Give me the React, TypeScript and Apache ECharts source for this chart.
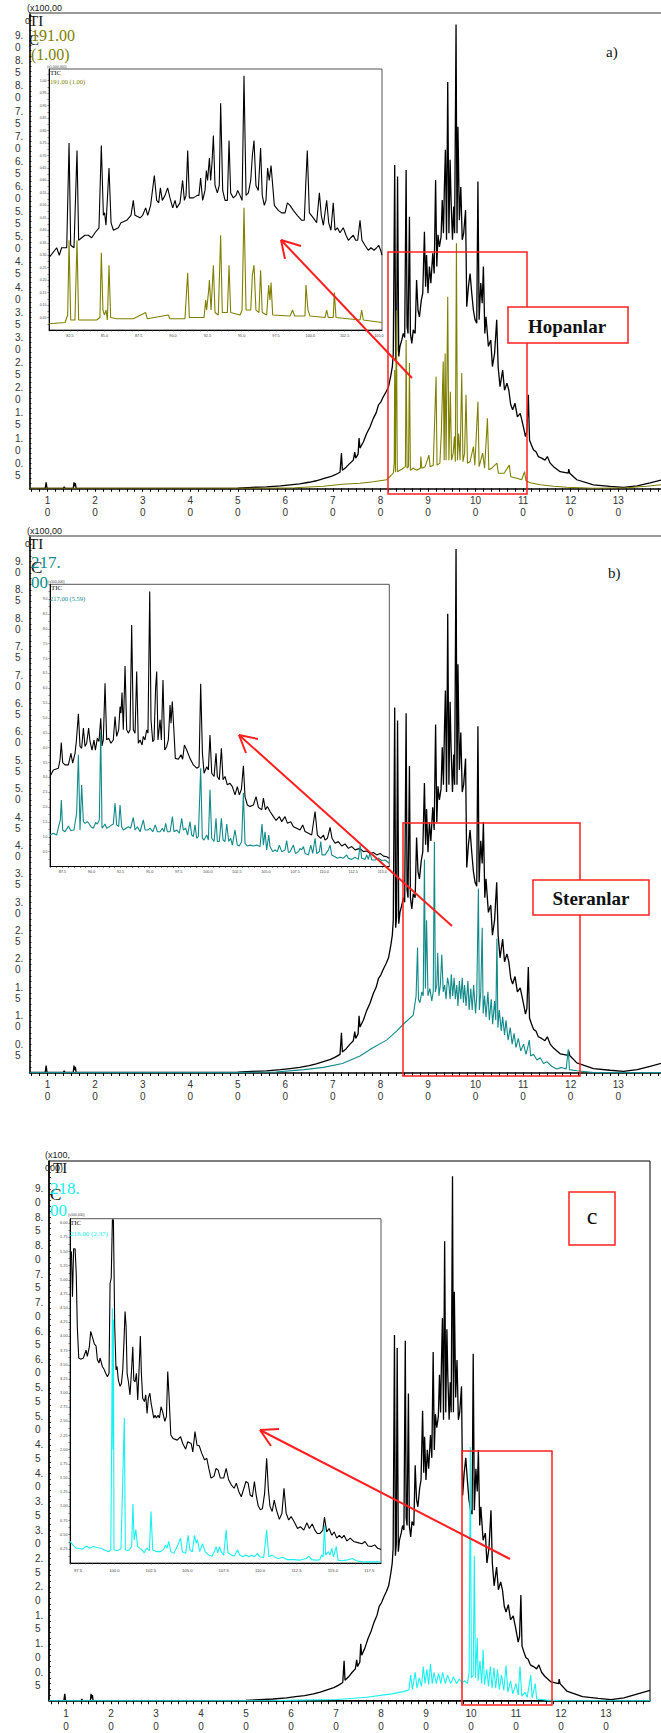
import React, { useEffect, useRef } from "react";
import * as echarts from "echarts";

// ---------------- axis label values ----------------
const mainXLabels = [10, 20, 30, 40, 50, 60, 70, 80, 90, 100, 110, 120, 130];
const mainYLabels = [0.5, 1.0, 1.5, 2.0, 2.5, 3.0, 3.5, 4.0, 4.5, 5.0, 5.5, 6.0, 6.5, 7.0, 7.5, 8.0, 8.5, 9.0];
const insetAXLabels = [82.5, 85.0, 87.5, 90.0, 92.5, 95.0, 97.5, 100.0, 102.5, 105.0];
const insetAYLabels = [0.05, 0.1, 0.15, 0.2, 0.25, 0.3, 0.35, 0.4, 0.45, 0.5, 0.55, 0.6, 0.65, 0.7, 0.75, 0.8, 0.85, 0.9, 0.95, 1.0];
const insetBXLabels = [87.5, 90.0, 92.5, 95.0, 97.5, 100.0, 102.5, 105.0, 107.5, 110.0, 112.5, 115.0];
const insetBYLabels = [0.5, 1.0, 1.5, 2.0, 2.5, 3.0, 3.5, 4.0, 4.5, 5.0, 5.5, 6.0, 6.5, 7.0, 7.5, 8.0, 8.5, 9.0];
const insetCXLabels = [97.5, 100.0, 102.5, 105.0, 107.5, 110.0, 112.5, 115.0, 117.5];
const insetCYLabels = [0.25, 0.5, 0.75, 1.0, 1.25, 1.5, 1.75, 2.0, 2.25, 2.5, 2.75, 3.0, 3.25, 3.5, 3.75, 4.0, 4.25, 4.5, 4.75, 5.0, 5.25, 5.5, 5.75, 6.0];

// ---------------- main chromatogram (TIC, x100,000) ----------------
const ticMain: [number, number][] = [
  [6.2, 0], [9.5, 0], [9.7, 0.12], [9.85, 0.02], [10.0, 0], [13.3, 0], [13.5, 0.03], [13.7, 0], [15.4, 0], [15.55, 0.12],
  [15.7, 0.04], [15.85, 0.1], [16.0, 0], [30, 0], [45, 0], [50, 0.005], [53, 0.02], [56, 0.03], [59, 0.05], [61, 0.07],
  [63, 0.09], [65, 0.12], [66.5, 0.15], [68, 0.19], [69.5, 0.23], [70.5, 0.27], [71.5, 0.32], [71.8, 0.7], [72.0, 0.36],
  [72.8, 0.42], [73.6, 0.5], [74.3, 0.56], [74.6, 0.72], [74.8, 0.6], [75.3, 0.68], [75.5, 1.0], [75.7, 0.8], [76.4, 0.92],
  [77.1, 1.09], [77.8, 1.22], [78.5, 1.39], [79.1, 1.5], [79.6, 1.66], [80.1, 1.72], [80.6, 1.82], [81.2, 1.92], [81.7, 2.02],
  [82.2, 2.25], [82.5, 2.42], [82.7, 2.68], [83.0, 6.43], [83.2, 2.55], [83.4, 2.75], [83.6, 6.2], [83.85, 2.62], [84.1, 2.82],
  [84.5, 2.95], [84.8, 3.08], [85.1, 3.0], [85.4, 6.33], [85.6, 3.21], [85.8, 3.08], [86.1, 5.4], [86.3, 3.08], [86.6, 2.88],
  [86.9, 3.15], [87.3, 3.08], [87.6, 4.14], [87.9, 3.54], [88.2, 3.41], [88.6, 3.74], [88.9, 3.88], [89.25, 5.1], [89.5, 4.01],
  [89.7, 4.64], [90.0, 3.88], [90.3, 4.41], [90.6, 4.08], [91.0, 4.67], [91.3, 4.27], [91.6, 6.13], [91.85, 4.41], [92.1, 5.04],
  [92.4, 4.8], [92.75, 5.0], [93.0, 5.73], [93.25, 5.07], [93.45, 5.99], [93.66, 6.73], [93.9, 4.94], [94.15, 8.08], [94.4, 5.07],
  [94.65, 6.53], [94.85, 5.73], [95.15, 4.94], [95.4, 5.6], [95.6, 5.07], [95.9, 9.22], [96.1, 5.07], [96.3, 7.19], [96.6, 5.33],
  [96.9, 5.99], [97.2, 4.94], [97.5, 5.07], [97.9, 5.53], [98.15, 3.61], [98.5, 4.01], [98.85, 4.27], [99.2, 3.88], [99.55, 3.54],
  [99.9, 3.35], [100.25, 3.28], [100.5, 6.1], [100.75, 3.35], [101.1, 4.08], [101.4, 3.68], [101.65, 4.41], [101.95, 3.08],
  [102.2, 3.41], [102.7, 2.82], [103.2, 2.95], [103.55, 2.42], [104.0, 2.68], [104.45, 3.35], [104.75, 2.42], [105.15, 2.02],
  [105.7, 2.35], [106.1, 1.95], [106.6, 2.09], [107.0, 1.95], [107.4, 1.66], [107.8, 1.56], [108.3, 1.69], [108.8, 1.42],
  [109.4, 1.49], [109.9, 1.29], [110.2, 1.16], [110.5, 1.03], [110.8, 1.13], [111.1, 1.86], [111.35, 0.96], [111.75, 0.86],
  [112.2, 0.76], [112.7, 0.73], [113.2, 0.63], [113.9, 0.6], [114.6, 0.56], [115.1, 0.63], [115.7, 0.5], [116.4, 0.43],
  [117.8, 0.33], [119.5, 0.3], [119.6, 0.38], [119.8, 0.3], [121.3, 0.17], [124.8, 0.07], [128.3, 0.04], [131.1, 0.02],
  [134, 0.05], [136.7, 0.11], [139.8, 0.18]
];

// m/z 191 (panel a)
const ion191Main: [number, number][] = [
  [6.2, 0], [40, 0], [55, 0], [62, 0.01], [68, 0.04], [72, 0.08], [75.7, 0.1], [78.5, 0.13], [81.3, 0.17], [82.4, 0.27],
  [82.7, 0.3], [82.9, 0.5], [83.0, 2.35], [83.15, 0.32], [83.35, 3.54], [83.55, 0.33], [84.5, 0.38], [85.25, 0.43], [85.4, 2.95],
  [85.6, 0.4], [85.9, 0.43], [86.1, 2.49], [86.3, 0.36], [86.9, 0.4], [87.6, 0.36], [88.4, 0.4], [88.5, 0.63], [88.7, 0.4],
  [89.4, 0.43], [90.2, 0.66], [90.45, 0.43], [91.1, 0.46], [91.7, 2.22], [91.9, 0.46], [92.5, 0.5], [92.8, 1.09], [93.2, 2.52],
  [93.4, 0.56], [93.6, 2.68], [93.8, 0.56], [94.15, 3.81], [94.4, 0.56], [94.7, 1.92], [94.95, 0.56], [95.3, 0.7], [95.55, 1.03],
  [95.75, 0.53], [95.98, 4.87], [96.2, 0.56], [96.45, 1.09], [96.75, 0.56], [97.1, 2.29], [97.35, 0.53], [97.7, 0.7], [98.0, 1.86],
  [98.3, 0.5], [98.85, 0.53], [99.55, 0.83], [99.85, 0.46], [100.5, 1.72], [100.75, 0.43], [101.1, 0.56], [101.5, 0.7],
  [101.9, 0.4], [102.5, 1.39], [102.8, 0.37], [103.4, 0.4], [104.5, 0.5], [104.8, 0.3], [106.0, 0.3], [107.1, 0.46],
  [107.4, 0.23], [108.7, 0.2], [109.7, 0.17], [110.3, 0.33], [110.6, 0.15], [111.5, 0.11], [113.6, 0.07], [116.4, 0.04],
  [119.2, 0.02], [124.8, 0], [131.8, 0.01], [136, 0.04], [139, 0.07]
];

// m/z 217 (panel b)
const ion217Main: [number, number][] = [
  [6.2, 0], [50, 0], [58, 0.01], [64, 0.05], [68, 0.09], [72, 0.16], [75.7, 0.29], [78.5, 0.44], [81.3, 0.57], [83.4, 0.73],
  [84.8, 0.85], [86.9, 1.01], [87.5, 1.35], [87.8, 2.2], [88.0, 1.29], [88.3, 1.23], [88.7, 1.42], [89.0, 1.35], [89.25, 3.75],
  [89.45, 1.48], [89.7, 2.68], [90.0, 1.35], [90.4, 1.48], [90.8, 1.26], [91.1, 1.42], [91.35, 4.06], [91.55, 1.42], [91.85, 1.54],
  [92.05, 2.11], [92.3, 1.35], [92.6, 1.54], [92.9, 2.08], [93.2, 1.42], [93.5, 1.54], [93.8, 1.29], [94.1, 1.67], [94.4, 1.54],
  [94.65, 1.29], [94.9, 1.73], [95.2, 1.35], [95.5, 1.67], [95.75, 1.29], [96.05, 1.54], [96.3, 1.17], [96.6, 1.61], [96.9, 1.29],
  [97.2, 1.67], [97.45, 1.23], [97.7, 1.54], [98.0, 1.17], [98.4, 1.61], [98.65, 1.1], [99.0, 1.48], [99.3, 1.1], [99.6, 1.54],
  [100.0, 1.04], [100.25, 1.35], [100.6, 3.24], [100.8, 1.1], [101.1, 1.42], [101.4, 2.55], [101.6, 1.04], [101.9, 1.35],
  [102.2, 0.98], [102.6, 1.42], [102.9, 0.92], [103.3, 1.29], [103.6, 0.85], [104.0, 1.26], [104.25, 0.92], [104.5, 2.36],
  [104.7, 0.79], [105.0, 1.1], [105.4, 0.73], [105.7, 0.98], [106.1, 0.66], [106.4, 0.92], [106.85, 0.57], [107.3, 0.79],
  [107.7, 0.5], [108.1, 0.69], [108.5, 0.44], [109.0, 0.6], [109.5, 0.38], [110.1, 0.5], [110.6, 0.32], [111.05, 0.47],
  [111.3, 0.57], [111.6, 0.29], [112.2, 0.32], [112.9, 0.22], [113.6, 0.26], [114.3, 0.16], [115.0, 0.19], [116.0, 0.11],
  [117.1, 0.06], [118.1, 0.09], [119.05, 0.06], [119.5, 0.41], [119.75, 0.05], [121.3, 0.03], [124.8, 0], [139, 0]
];

// m/z 218 (panel c)
const ion218Main: [number, number][] = [
  [6.2, 0], [55, 0], [62, 0.01], [70.2, 0.02], [76.8, 0.06], [82.4, 0.12], [85, 0.16], [86.2, 0.19], [86.6, 0.45], [87, 0.2],
  [87.6, 0.5], [88, 0.22], [88.5, 0.4], [89.0, 0.25], [89.4, 0.6], [89.8, 0.3], [90.2, 0.55], [90.6, 0.28], [91.0, 0.65],
  [91.4, 0.3], [91.8, 0.5], [92.3, 0.3], [92.8, 0.48], [93.3, 0.3], [93.7, 0.5], [94.3, 0.3], [94.8, 0.45], [95.5, 0.3],
  [96.1, 0.42], [96.8, 0.3], [97.4, 0.38], [98.0, 0.32], [98.6, 0.35], [99.2, 0.3], [99.6, 0.5], [99.85, 4.46], [100.1, 0.4],
  [100.5, 0.45], [100.75, 2.55], [101.0, 0.4], [101.4, 1.1], [101.6, 0.35], [102.0, 0.7], [102.4, 0.3], [102.7, 0.9],
  [103.0, 0.28], [103.5, 0.55], [103.9, 0.25], [104.3, 0.6], [104.7, 0.22], [105.1, 0.58], [105.5, 0.22], [105.9, 0.55],
  [106.3, 0.2], [106.8, 0.45], [107.3, 0.18], [107.8, 0.62], [108.2, 0.15], [108.8, 0.35], [109.3, 0.12], [110.0, 0.3],
  [110.5, 0.1], [110.9, 0.6], [111.3, 0.08], [112, 0.15], [112.5, 0.06], [113.3, 0.45], [113.6, 0.05], [114.3, 0.3],
  [114.6, 0.03], [117, 0.01], [120, 0], [139.8, 0]
];

// ---------------- inset a (x1,000,000) ----------------
const insetATic: [number, number][] = [
  [80.97, 0.29], [81.53, 0.33], [81.72, 0.3], [81.89, 0.33], [82.26, 0.33], [82.43, 0.75], [82.55, 0.34], [82.79, 0.33],
  [83.01, 0.72], [83.13, 0.36], [83.35, 0.37], [83.59, 0.38], [83.83, 0.38], [84.08, 0.37], [84.32, 0.39], [84.61, 0.41],
  [84.78, 0.74], [84.93, 0.46], [85.02, 0.47], [85.12, 0.42], [85.34, 0.65], [85.49, 0.43], [85.66, 0.4], [86.02, 0.41],
  [86.21, 0.43], [86.63, 0.44], [86.94, 0.46], [87.11, 0.52], [87.23, 0.46], [87.6, 0.45], [87.79, 0.46], [88.01, 0.49],
  [88.16, 0.46], [88.37, 0.5], [88.64, 0.62], [88.81, 0.52], [88.96, 0.51], [89.08, 0.57], [89.22, 0.52], [89.42, 0.54],
  [89.61, 0.57], [89.78, 0.53], [89.98, 0.49], [90.15, 0.52], [90.27, 0.49], [90.51, 0.51], [90.7, 0.6], [90.83, 0.52],
  [90.95, 0.54], [91.07, 0.72], [91.19, 0.53], [91.48, 0.53], [91.77, 0.54], [91.89, 0.54], [92.01, 0.61], [92.16, 0.52],
  [92.33, 0.56], [92.43, 0.64], [92.52, 0.6], [92.65, 0.69], [92.74, 0.6], [92.84, 0.67], [92.94, 0.78], [93.06, 0.58],
  [93.23, 0.55], [93.37, 0.58], [93.47, 0.91], [93.62, 0.56], [93.79, 0.52], [93.96, 0.52], [94.08, 0.76], [94.2, 0.55],
  [94.39, 0.53], [94.59, 0.54], [94.71, 0.56], [94.88, 0.54], [95.03, 0.52], [95.17, 1.02], [95.32, 0.54], [95.49, 0.55],
  [95.66, 0.6], [95.78, 0.7], [95.9, 0.76], [96.04, 0.58], [96.21, 0.56], [96.38, 0.73], [96.5, 0.54], [96.65, 0.5],
  [96.77, 0.52], [96.89, 0.65], [97.01, 0.6], [97.14, 0.66], [97.26, 0.58], [97.38, 0.5], [97.67, 0.48], [97.91, 0.47],
  [98.16, 0.47], [98.33, 0.51], [98.52, 0.5], [98.76, 0.48], [99.05, 0.46], [99.37, 0.44], [99.56, 0.44], [99.68, 0.6],
  [99.78, 0.72], [99.93, 0.47], [100.22, 0.45], [100.46, 0.43], [100.66, 0.55], [100.8, 0.46], [100.95, 0.42], [101.19, 0.52],
  [101.34, 0.43], [101.5, 0.4], [101.67, 0.51], [101.8, 0.4], [101.97, 0.41], [102.16, 0.39], [102.4, 0.41], [102.6, 0.38],
  [102.77, 0.36], [102.94, 0.37], [103.13, 0.38], [103.3, 0.36], [103.45, 0.36], [103.62, 0.44], [103.76, 0.36], [103.98, 0.34],
  [104.22, 0.32], [104.42, 0.33], [104.64, 0.32], [104.83, 0.33], [104.98, 0.34], [105.12, 0.32], [105.22, 0.3]
];
const insetA191: [number, number][] = [
  [80.97, 0.025], [82.14, 0.03], [82.33, 0.06], [82.43, 0.36], [82.55, 0.04], [82.86, 0.04], [83.01, 0.36], [83.13, 0.04],
  [84.08, 0.04], [84.44, 0.04], [84.68, 0.05], [84.78, 0.31], [84.9, 0.08], [85.0, 0.06], [85.12, 0.08], [85.22, 0.04],
  [85.34, 0.26], [85.46, 0.05], [85.9, 0.045], [87.11, 0.045], [88.01, 0.07], [88.13, 0.045], [89.66, 0.06], [89.78, 0.045],
  [90.87, 0.045], [91.07, 0.23], [91.19, 0.05], [92.26, 0.05], [92.38, 0.12], [92.45, 0.08], [92.6, 0.16], [92.65, 0.2],
  [92.77, 0.08], [92.94, 0.26], [93.06, 0.07], [93.3, 0.06], [93.47, 0.38], [93.59, 0.07], [93.96, 0.07], [94.08, 0.26],
  [94.2, 0.07], [94.88, 0.06], [95.03, 0.08], [95.17, 0.49], [95.32, 0.08], [95.66, 0.08], [95.78, 0.22], [95.9, 0.26],
  [96.04, 0.08], [96.26, 0.07], [96.38, 0.24], [96.5, 0.07], [96.82, 0.06], [96.97, 0.18], [97.06, 0.12], [97.14, 0.19],
  [97.26, 0.06], [98.52, 0.056], [98.71, 0.08], [98.86, 0.056], [99.61, 0.056], [99.68, 0.18], [99.83, 0.08], [99.98, 0.056],
  [101.07, 0.05], [101.19, 0.08], [101.31, 0.05], [101.67, 0.05], [101.75, 0.15], [101.87, 0.05], [103.62, 0.04], [103.74, 0.08],
  [103.86, 0.04], [105.22, 0.03]
];

// ---------------- inset b (x100,000) ----------------
const insetBTic: [number, number][] = [
  [86.44, 3.03], [86.73, 3.25], [87.16, 3.31], [87.3, 3.59], [87.41, 4.17], [87.53, 3.5], [87.73, 3.42], [88.02, 3.42],
  [88.24, 3.81], [88.39, 3.48], [88.59, 3.81], [88.7, 4.2], [88.88, 5.14], [89.02, 4.04], [89.16, 3.98], [89.31, 4.66],
  [89.45, 4.04], [89.59, 4.15], [89.76, 4.66], [89.88, 4.21], [90.05, 3.92], [90.22, 4.26], [90.34, 3.92], [90.51, 4.32],
  [90.65, 4.21], [90.8, 4.99], [90.91, 4.06], [91.02, 4.26], [91.17, 6.17], [91.31, 4.26], [91.48, 4.32], [91.68, 4.15],
  [91.88, 4.26], [92.03, 5.05], [92.17, 4.38], [92.34, 4.6], [92.46, 5.38], [92.54, 5.16], [92.63, 5.86], [92.74, 4.6],
  [92.89, 6.75], [93.03, 4.6], [93.17, 4.49], [93.32, 4.6], [93.46, 8.13], [93.6, 4.6], [93.75, 4.49], [93.89, 6.56],
  [94.03, 4.15], [94.18, 4.26], [94.35, 4.09], [94.46, 4.38], [94.6, 4.26], [94.75, 4.6], [94.86, 4.49], [95.01, 9.26],
  [95.12, 4.94], [95.27, 4.2], [95.38, 4.26], [95.52, 6.06], [95.61, 6.56], [95.72, 4.26], [95.9, 4.94], [96.01, 4.26],
  [96.15, 6.28], [96.3, 3.92], [96.47, 4.04], [96.61, 4.26], [96.76, 5.44], [96.84, 4.82], [96.95, 5.55], [97.07, 4.71],
  [97.21, 3.64], [97.47, 3.61], [97.7, 3.76], [97.84, 3.61], [97.99, 4.09], [98.19, 3.92], [98.47, 3.64], [98.76, 3.42],
  [99.05, 3.31], [99.25, 3.36], [99.39, 6.15], [99.54, 3.81], [99.68, 3.14], [99.91, 3.36], [100.05, 3.25], [100.19, 4.43],
  [100.34, 3.14], [100.54, 3.03], [100.71, 3.81], [100.82, 3.03], [100.99, 2.92], [101.17, 3.98], [101.31, 2.92], [101.48, 3.03],
  [101.68, 2.75], [101.91, 2.8], [102.11, 2.69], [102.34, 2.41], [102.54, 2.69], [102.71, 2.41], [102.89, 2.6], [103.06, 3.39],
  [103.2, 2.35], [103.4, 2.07], [103.63, 2.02], [103.92, 2.07], [104.15, 2.35], [104.35, 1.99], [104.64, 1.91], [104.78, 2.3],
  [104.95, 1.91], [105.12, 2.02], [105.35, 1.85], [105.64, 1.68], [105.87, 1.55], [106.15, 1.68], [106.35, 1.51], [106.64, 1.68],
  [106.84, 1.46], [107.13, 1.51], [107.36, 1.34], [107.64, 1.29], [107.93, 1.23], [108.16, 1.4], [108.36, 1.18], [108.65, 1.12],
  [108.93, 1.06], [109.22, 1.85], [109.42, 1.06], [109.71, 0.95], [109.94, 1.06], [110.08, 0.89], [110.28, 0.95], [110.51, 1.32],
  [110.68, 0.95], [110.94, 0.78], [111.22, 0.84], [111.51, 0.69], [111.8, 0.76], [112.08, 0.61], [112.37, 0.67], [112.66, 0.56],
  [113.09, 0.61], [113.37, 0.5], [113.66, 0.52], [113.95, 0.44], [114.23, 0.47], [114.52, 0.39], [114.81, 0.44], [115.1, 0.35],
  [115.38, 0.33], [115.58, 0.28]
];
const insetB217: [number, number][] = [
  [86.44, 1.06], [86.73, 1.12], [87.01, 1.06], [87.18, 1.34], [87.33, 1.57], [87.41, 2.24], [87.53, 1.23], [87.73, 1.17],
  [88.02, 1.36], [88.22, 1.21], [88.5, 1.23], [88.73, 1.79], [88.88, 3.76], [89.02, 1.23], [89.16, 2.74], [89.31, 1.51],
  [89.45, 1.45], [89.65, 1.51], [89.82, 1.43], [89.96, 1.34], [90.16, 1.29], [90.37, 1.48], [90.51, 1.43], [90.68, 1.57],
  [90.8, 4.54], [90.91, 1.29], [91.02, 1.34], [91.17, 1.43], [91.31, 1.29], [91.6, 1.36], [91.88, 1.43], [92.03, 2.13],
  [92.17, 1.4], [92.34, 1.34], [92.46, 2.07], [92.6, 1.34], [92.74, 1.23], [92.97, 1.29], [93.17, 1.34], [93.37, 1.29],
  [93.6, 1.65], [93.75, 1.23], [93.95, 1.34], [94.18, 1.17], [94.46, 1.57], [94.61, 1.23], [94.84, 1.23], [95.04, 1.29],
  [95.27, 1.17], [95.49, 1.4], [95.67, 1.17], [95.9, 1.17], [96.1, 1.29], [96.24, 1.17], [96.38, 1.45], [96.53, 1.17],
  [96.76, 1.17], [96.96, 1.68], [97.1, 1.17], [97.33, 1.23], [97.56, 1.12], [97.76, 1.62], [97.9, 1.23], [98.1, 1.29],
  [98.27, 1.06], [98.47, 1.51], [98.62, 1.06], [98.76, 1.01], [98.9, 1.4], [99.05, 0.95], [99.19, 1.01], [99.39, 3.31],
  [99.53, 0.95], [99.68, 0.89], [99.91, 1.06], [100.05, 0.89], [100.19, 2.58], [100.34, 0.95], [100.54, 0.84], [100.71, 1.62],
  [100.82, 0.84], [100.99, 0.84], [101.17, 1.62], [101.31, 0.89], [101.48, 0.84], [101.63, 1.43], [101.8, 0.84], [101.97, 0.95],
  [102.11, 0.72], [102.34, 1.23], [102.54, 0.72], [102.71, 0.69], [102.91, 0.84], [103.06, 2.47], [103.2, 0.78], [103.4, 0.69],
  [103.63, 0.72], [103.92, 0.69], [104.2, 0.72], [104.49, 0.67], [104.66, 1.43], [104.78, 0.72], [104.92, 1.17], [105.06, 0.56],
  [105.24, 1.06], [105.35, 0.67], [105.58, 0.5], [105.78, 0.56], [105.98, 0.5], [106.15, 0.72], [106.35, 0.5], [106.64, 0.56],
  [106.78, 0.87], [106.93, 0.47], [107.07, 0.5], [107.36, 0.72], [107.53, 0.44], [107.79, 0.5], [107.93, 0.61], [108.07, 0.56],
  [108.22, 0.67], [108.36, 0.44], [108.65, 0.39], [108.85, 0.72], [109.02, 0.44], [109.22, 0.95], [109.36, 0.44], [109.59, 0.5],
  [109.71, 0.84], [109.82, 0.39], [110.08, 0.39], [110.37, 0.56], [110.51, 0.72], [110.65, 0.39], [110.94, 0.33], [111.14, 0.28],
  [111.37, 0.31], [111.65, 0.28], [111.94, 0.39], [112.08, 0.28], [112.37, 0.24], [112.66, 0.31], [112.94, 0.24], [113.09, 0.72],
  [113.23, 0.28], [113.52, 0.24], [113.66, 0.39], [113.8, 0.24], [113.95, 0.47], [114.09, 0.22], [114.38, 0.22], [114.66, 0.28],
  [114.95, 0.2], [115.24, 0.22], [115.44, 0.16], [115.58, 0.11]
];

// ---------------- inset c (x100,000) ----------------
const insetCTic: [number, number][] = [
  [96.97, 5.45], [97.05, 5.5], [97.12, 4.7], [97.2, 5.55], [97.3, 5.55], [97.38, 5.1], [97.45, 4.18], [97.55, 3.62], [97.68, 3.6],
  [97.87, 3.62], [98.05, 3.76], [98.14, 3.65], [98.28, 3.82], [98.37, 4.09], [98.51, 3.97], [98.62, 3.87], [98.74, 3.83],
  [98.83, 3.59], [98.94, 3.53], [99.01, 3.62], [99.08, 3.56], [99.17, 3.47], [99.29, 3.42], [99.4, 3.35], [99.52, 3.29],
  [99.63, 3.35], [99.7, 4.94], [99.78, 5.03], [99.86, 6.06], [99.93, 6.06], [100.02, 4.18], [100.11, 3.41], [100.18, 3.47],
  [100.27, 3.23], [100.39, 3.12], [100.48, 3.17], [100.57, 3.41], [100.66, 3.94], [100.73, 4.44], [100.8, 4.18], [100.87, 3.35],
  [100.96, 3.2], [101.07, 2.97], [101.19, 3.47], [101.26, 3.82], [101.33, 3.23], [101.42, 3.2], [101.51, 3.35], [101.6, 2.88],
  [101.69, 3.41], [101.78, 4.01], [101.85, 3.35], [101.94, 2.91], [102.06, 2.85], [102.15, 2.97], [102.24, 2.64], [102.33, 2.91],
  [102.43, 3.0], [102.52, 2.82], [102.61, 2.69], [102.7, 2.56], [102.79, 2.61], [102.88, 2.56], [103.0, 2.61], [103.09, 2.56],
  [103.2, 2.76], [103.32, 2.66], [103.46, 2.5], [103.57, 2.59], [103.66, 3.38], [103.75, 2.94], [103.87, 2.26], [104.02, 2.2],
  [104.31, 2.17], [104.54, 2.23], [104.69, 2.11], [104.89, 2.01], [105.03, 2.14], [105.27, 2.11], [105.38, 1.96], [105.53, 2.32],
  [105.67, 2.08], [105.82, 2.07], [105.99, 1.94], [106.19, 1.82], [106.34, 1.85], [106.48, 1.67], [106.63, 1.5], [106.83, 1.53],
  [106.98, 1.67], [107.12, 1.64], [107.27, 1.5], [107.5, 1.5], [107.67, 1.67], [107.84, 1.47], [108.02, 1.38], [108.22, 1.32],
  [108.37, 1.41], [108.54, 1.26], [108.71, 1.17], [108.89, 1.32], [109.03, 1.44], [109.18, 1.41], [109.32, 1.2], [109.47, 1.17],
  [109.61, 1.44], [109.73, 1.2], [109.87, 1.01], [110.02, 0.94], [110.16, 0.96], [110.31, 1.23], [110.45, 1.85], [110.57, 1.29],
  [110.68, 1.0], [110.83, 0.91], [110.97, 1.11], [111.12, 0.94], [111.32, 0.77], [111.5, 0.88], [111.64, 1.32], [111.79, 0.88],
  [111.96, 0.76], [112.13, 0.82], [112.34, 0.73], [112.57, 0.61], [112.77, 0.64], [113.0, 0.58], [113.21, 0.71], [113.38, 0.61],
  [113.58, 0.69], [113.76, 0.58], [113.93, 0.52], [114.1, 0.52], [114.31, 0.58], [114.42, 0.81], [114.57, 0.55], [114.74, 0.61],
  [114.92, 0.49], [115.09, 0.55], [115.26, 0.44], [115.44, 0.49], [115.61, 0.44], [115.76, 0.49], [115.96, 0.39], [116.19, 0.44],
  [116.42, 0.38], [116.71, 0.36], [117.0, 0.34], [117.2, 0.38], [117.41, 0.3], [117.64, 0.29], [117.87, 0.32], [118.07, 0.26],
  [118.3, 0.24]
];
const insetC218: [number, number][] = [
  [96.95, 0.38], [97.15, 0.32], [97.38, 0.26], [97.6, 0.26], [97.79, 0.24], [98.08, 0.3], [98.28, 0.26], [98.57, 0.29],
  [98.86, 0.27], [99.09, 0.26], [99.38, 0.22], [99.62, 0.2], [99.75, 0.23], [99.82, 2.5], [99.86, 4.5], [99.9, 2.0],
  [99.93, 4.3], [99.97, 0.23], [100.2, 0.22], [100.45, 0.25], [100.68, 2.56], [100.75, 0.23], [100.98, 0.22], [101.18, 0.29],
  [101.27, 1.04], [101.35, 0.41], [101.47, 0.59], [101.59, 0.29], [101.85, 0.24], [102.05, 0.18], [102.22, 0.26], [102.4, 0.22],
  [102.51, 0.91], [102.63, 0.23], [102.92, 0.2], [103.15, 0.2], [103.38, 0.24], [103.5, 0.32], [103.6, 0.26], [103.73, 0.38],
  [103.87, 0.2], [104.08, 0.17], [104.31, 0.29], [104.54, 0.44], [104.66, 0.2], [104.89, 0.17], [105.06, 0.49], [105.18, 0.23],
  [105.35, 0.2], [105.5, 0.49], [105.61, 0.35], [105.7, 0.41], [105.85, 0.2], [106.05, 0.34], [106.22, 0.2], [106.48, 0.14],
  [106.69, 0.12], [106.86, 0.2], [106.98, 0.29], [107.09, 0.18], [107.21, 0.29], [107.33, 0.2], [107.5, 0.14], [107.67, 0.58],
  [107.79, 0.18], [108.02, 0.14], [108.22, 0.12], [108.45, 0.23], [108.6, 0.14], [108.8, 0.11], [109.0, 0.14], [109.24, 0.11],
  [109.4, 0.14], [109.6, 0.11], [109.82, 0.17], [109.97, 0.11], [110.25, 0.1], [110.45, 0.58], [110.6, 0.11], [110.83, 0.14],
  [111.03, 0.1], [111.26, 0.08], [111.55, 0.1], [111.84, 0.06], [112.27, 0.06], [112.71, 0.05], [113.15, 0.08], [113.35, 0.12],
  [113.52, 0.06], [113.87, 0.05], [114.1, 0.06], [114.22, 0.14], [114.33, 0.11], [114.42, 0.67], [114.5, 0.14], [114.68, 0.2],
  [114.8, 0.14], [114.92, 0.26], [115.04, 0.11], [115.23, 0.29], [115.35, 0.05], [115.61, 0.04], [115.9, 0.05], [116.33, 0.08],
  [116.62, 0.04], [117.06, 0.02], [117.64, 0.02], [118.3, 0.02]
];

// ---------------- styling helpers ----------------
const OLIVE = "#808000";
const TEAL = "#118a8a";
const CYAN = "#19f0f0";
const RED = "#ff1f1f";
const SANS = "'Liberation Sans', Arial, sans-serif";
const SERIF = "'Liberation Serif', 'Times New Roman', serif";

function stepValues(start: number, end: number, step: number): number[] {
  const out: number[] = [];
  for (let v = start; v <= end + 1e-9; v += step) out.push(Math.round(v * 1000) / 1000);
  return out;
}

function mainXAxis(gridIndex: number, min: number, max: number, lh: number) {
  return {
    type: "value", gridIndex, min, max,
    axisLine: { show: true, onZero: false, lineStyle: { color: "#000", width: 1.5 } },
    splitLine: { show: false },
    axisTick: { show: true, inside: false, length: 3.5, customValues: stepValues(10 - 20 / 6, max, 10 / 6), lineStyle: { color: "#000", width: 1 } },
    axisLabel: {
      customValues: mainXLabels, margin: 6, color: "#333", fontSize: 10, lineHeight: lh, fontFamily: SANS,
      showMinLabel: true, showMaxLabel: true, hideOverlap: false,
      formatter: (v: number) => `${Math.round(v / 10)}\n0`,
    },
  };
}

// Two-line labels ("9." over "0"); the label anchor is set half a line lower than
// its tick so that the first line sits on the tick, as in the reference.
function mainYAxis(gridIndex: number, max: number, lh: number, margin: number, pxPerUnit: number) {
  const shift = lh / 2 / pxPerUnit;
  return {
    type: "value", gridIndex, min: 0, max,
    axisLine: { show: true, onZero: false, lineStyle: { color: "#000", width: 1.6 } },
    splitLine: { show: false },
    axisTick: { show: true, inside: true, length: 2, customValues: stepValues(0, max, 0.1), lineStyle: { color: "#000", width: 0.8 } },
    axisLabel: {
      customValues: mainYLabels.map((v) => v - shift), align: "left", margin, color: "#333", fontSize: 10, lineHeight: lh, fontFamily: SANS,
      showMinLabel: true, showMaxLabel: true, hideOverlap: false,
      formatter: (v: number) => { const r = Math.round((v + shift) * 2) / 2; const s = r.toFixed(1).split("."); return `${s[0]}.\n${s[1]}`; },
    },
  };
}

function insetXAxis(gridIndex: number, min: number, max: number, labels: number[], margin: number, fs: number) {
  return {
    type: "value", gridIndex, min, max,
    axisLine: { show: true, onZero: false, lineStyle: { color: "#000", width: 1 } },
    splitLine: { show: false },
    axisTick: { show: true, inside: false, length: 1.5, customValues: stepValues(Math.ceil(min * 2) / 2, max, 0.5), lineStyle: { color: "#333", width: 0.6 } },
    axisLabel: { customValues: labels, margin, color: "#444", fontSize: fs, fontFamily: SANS, showMinLabel: true, showMaxLabel: true, hideOverlap: false, formatter: (v: number) => v.toFixed(1) },
  };
}

function insetYAxis(gridIndex: number, max: number, labels: number[], digits: number, fs: number, tickStep: number) {
  return {
    type: "value", gridIndex, min: 0, max,
    axisLine: { show: true, onZero: false, lineStyle: { color: "#000", width: 1 } },
    splitLine: { show: false },
    axisTick: { show: true, inside: false, length: 1.5, customValues: stepValues(tickStep, max, tickStep), lineStyle: { color: "#333", width: 0.6 } },
    axisLabel: { customValues: labels, margin: 2.5, color: "#444", fontSize: fs, fontFamily: SANS, showMinLabel: true, showMaxLabel: true, hideOverlap: false, formatter: (v: number) => v.toFixed(digits) },
  };
}

function lineSeries(data: [number, number][], axis: number, color: string, width: number, z: number) {
  return {
    type: "line", data, xAxisIndex: axis, yAxisIndex: axis, symbol: "none", showSymbol: false,
    lineStyle: { color, width }, itemStyle: { color }, z, clip: true, silent: true,
  };
}

function gLine(x1: number, y1: number, x2: number, y2: number, stroke: string, lineWidth: number) {
  return { type: "line", shape: { x1, y1, x2, y2 }, style: { stroke, lineWidth }, z: 100, silent: true };
}
function gText(x: number, y: number, text: string, font: string, fill: string, z = 101) {
  return {
    type: "text", x, y, z, silent: true,
    style: { text, font, fill, textAlign: "left", textVerticalAlign: "middle", align: "left", verticalAlign: "middle" },
  };
}
function gRect(x: number, y: number, width: number, height: number, fill: string) {
  return { type: "rect", shape: { x, y, width, height }, style: { fill, stroke: RED, lineWidth: 1.5 }, z: 100, silent: true };
}
function arrow(x1: number, y1: number, tx: number, ty: number, w1x: number, w1y: number, w2x: number, w2y: number) {
  return [gLine(x1, y1, tx, ty, RED, 2), gLine(tx, ty, w1x, w1y, RED, 2), gLine(tx, ty, w2x, w2y, RED, 2)];
}

export default function App() {
  const ref = useRef<HTMLDivElement>(null);

  useEffect(() => {
    document.body.style.margin = "0";
    if (!ref.current) return;
    const chart = echarts.init(ref.current, null, { renderer: "svg" });

    const graphics: any[] = [
      // frame lines
      gLine(29, 13, 661, 13, "#777", 1.5),
      gLine(29, 536, 661, 536, "#777", 1.5),
      // panel a header texts
      gText(27, 8, "(x100,00", `9px ${SANS}`, "#222"),
      gText(25, 21, "0", `9px ${SANS}`, "#222"),
      gText(29, 21, "TI", `15px ${SERIF}`, "#111"),
      gText(29, 40, "C", `15px ${SERIF}`, "#111"),
      gText(31, 35, "191.00", `16px ${SERIF}`, OLIVE, 102),
      gText(31, 54, "(1.00)", `16px ${SERIF}`, OLIVE, 102),
      gText(606, 52, "a)", `15px ${SERIF}`, "#111"),
      // panel b header texts
      gText(27, 531, "(x100,00", `9px ${SANS}`, "#222"),
      gText(25, 544, "0", `9px ${SANS}`, "#222"),
      gText(29, 544, "TI", `15px ${SERIF}`, "#111"),
      gText(31, 567, "C", `17px ${SERIF}`, "#111"),
      gText(31, 562, "217.", `17px ${SERIF}`, TEAL, 102),
      gText(31, 582, "00", `17px ${SERIF}`, TEAL, 102),
      gText(608, 573, "b)", `15px ${SERIF}`, "#111"),
      // panel c header texts
      gText(45, 1155, "(x100,", `9px ${SANS}`, "#222"),
      gText(45, 1168, "000)", `9px ${SANS}`, "#222"),
      gText(53, 1168, "TI", `15px ${SERIF}`, "#111"),
      gText(50, 1194, "C", `17px ${SERIF}`, "#111"),
      gText(50, 1188, "218.", `17px ${SERIF}`, CYAN, 102),
      gText(50, 1210, "00", `17px ${SERIF}`, CYAN, 102),
      // inset headers
      gText(47, 67, "(x1,000,000)", `3.5px ${SANS}`, "#444"),
      gText(50, 73, "TIC", `7px ${SERIF}`, "#111"),
      gText(50, 81, "191.00 (1.00)", `6.5px ${SERIF}`, OLIVE),
      gText(48, 582, "(x100,000)", `3.5px ${SANS}`, "#444"),
      gText(51, 588, "TIC", `7px ${SERIF}`, "#111"),
      gText(50, 598, "217.00 (5.59)", `6.5px ${SERIF}`, TEAL),
      gText(68, 1215, "(x100,000)", `3.5px ${SANS}`, "#444"),
      gText(70, 1223, "TIC", `7px ${SERIF}`, "#111"),
      gText(70, 1234, "218.00 (2.37)", `7px ${SERIF}`, CYAN),
      // red region boxes
      gRect(388, 252, 139, 242, "none"),
      gRect(403, 823, 177, 253, "none"),
      gRect(462, 1451, 90, 254, "none"),
      // label boxes
      gRect(508, 307, 120, 36, "#fff"),
      { type: "text", x: 567, y: 326, z: 101, silent: true, style: { text: "Hopanlar", font: `bold 19px ${SERIF}`, fill: "#111", textAlign: "center", textVerticalAlign: "middle", align: "center", verticalAlign: "middle" } },
      gRect(533, 880, 116, 35, "#fff"),
      { type: "text", x: 591, y: 898, z: 101, silent: true, style: { text: "Steranlar", font: `bold 19px ${SERIF}`, fill: "#111", textAlign: "center", textVerticalAlign: "middle", align: "center", verticalAlign: "middle" } },
      gRect(569, 1192, 46, 53, "#fff"),
      { type: "text", x: 592, y: 1216, z: 101, silent: true, style: { text: "c", font: `24px ${SERIF}`, fill: "#111", textAlign: "center", textVerticalAlign: "middle", align: "center", verticalAlign: "middle" } },
      // arrows
      ...arrow(412, 378, 281, 240, 301, 246, 285, 259),
      ...arrow(452, 926, 239, 735, 258, 739, 246, 753),
      ...arrow(510, 1559, 260, 1430, 279, 1429, 271, 1446),
    ];

    const option: any = {
      animation: false,
      backgroundColor: "#fff",
      grid: [
        { left: 29.5, top: 13, width: 631.5, height: 475.3 },
        { left: 29.5, top: 536, width: 631.5, height: 536.5 },
        { left: 49, top: 1161, width: 601, height: 539.7, show: true, borderColor: "#000", borderWidth: 1, backgroundColor: "transparent" },
        { left: 49, top: 69, width: 333, height: 261, show: true, borderColor: "#555", borderWidth: 1, backgroundColor: "#fff", z: 5 },
        { left: 50, top: 584.3, width: 339.3, height: 282.2, show: true, borderColor: "#555", borderWidth: 1, backgroundColor: "#fff", z: 5 },
        { left: 70, top: 1218.7, width: 311, height: 344.3, show: true, borderColor: "#555", borderWidth: 1, backgroundColor: "#fff", z: 5 },
      ],
      xAxis: [
        mainXAxis(0, 6.2, 139.0, 12),
        mainXAxis(1, 6.2, 139.0, 12),
        mainXAxis(2, 6.2, 139.8, 13),
        { ...insetXAxis(3, 80.97, 105.22, insetAXLabels, 4, 3.8), z: 6 },
        { ...insetXAxis(4, 86.44, 115.6, insetBXLabels, 3.5, 3.8), z: 6 },
        { ...insetXAxis(5, 96.95, 118.3, insetCXLabels, 5, 4.2), z: 6 },
      ],
      yAxis: [
        mainYAxis(0, 9.45, 12, 14.5, 475.3 / 9.45),
        mainYAxis(1, 9.45, 11, 14.5, 536.5 / 9.45),
        mainYAxis(2, 9.49, 13.5, 14, 539.7 / 9.49),
        { ...insetYAxis(3, 1.047, insetAYLabels, 2, 3.5, 0.025), z: 6 },
        { ...insetYAxis(4, 9.5, insetBYLabels, 1, 3.5, 0.25), z: 6 },
        { ...insetYAxis(5, 6.08, insetCYLabels, 2, 3.8, 0.125), z: 6 },
      ],
      series: [
        lineSeries(ticMain, 0, "#000", 1.3, 2),
        lineSeries(ion191Main, 0, OLIVE, 1.1, 3),
        lineSeries(ticMain, 1, "#000", 1.3, 2),
        lineSeries(ion217Main, 1, TEAL, 1.1, 3),
        lineSeries(ticMain, 2, "#000", 1.3, 2),
        lineSeries(ion218Main, 2, CYAN, 1.1, 3),
        lineSeries(insetATic, 3, "#000", 1.1, 10),
        lineSeries(insetA191, 3, OLIVE, 1.1, 11),
        lineSeries(insetBTic, 4, "#000", 1.1, 10),
        lineSeries(insetB217, 4, TEAL, 1.1, 11),
        lineSeries(insetCTic, 5, "#000", 1.1, 10),
        lineSeries(insetC218, 5, CYAN, 1.1, 11),
      ],
      graphic: { elements: graphics },
    };

    chart.setOption(option);
    return () => chart.dispose();
  }, []);

  return <div ref={ref} style={{ width: 661, height: 1733 }} />;
}
